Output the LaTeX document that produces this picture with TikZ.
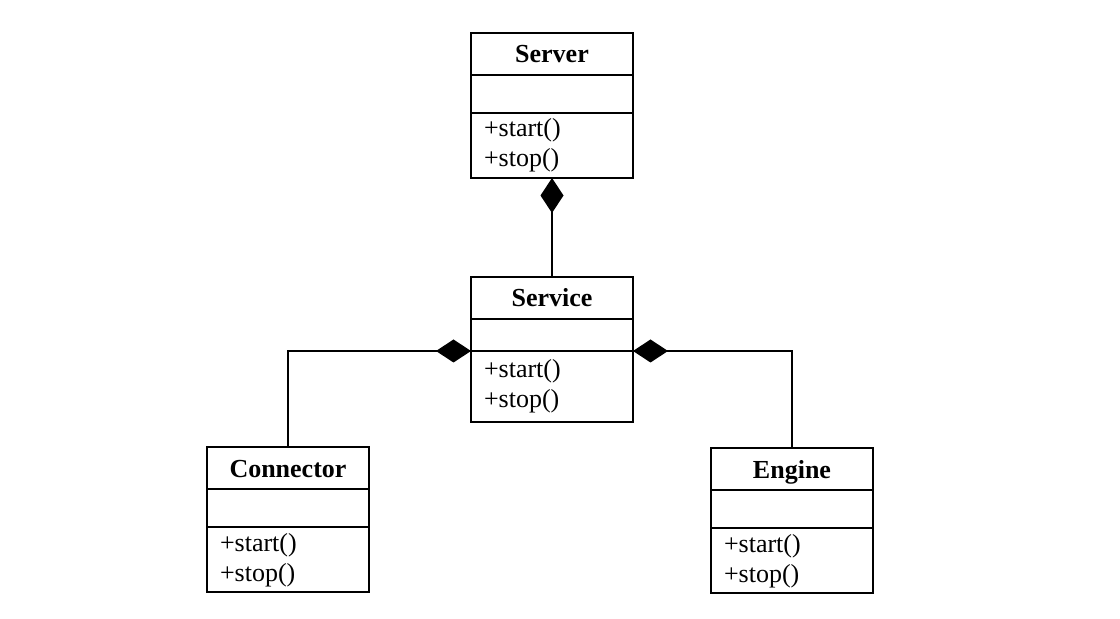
\documentclass[tikz,border=0pt]{standalone}
\usepackage{fontspec}
\setmainfont{Liberation Serif}
\usepackage{tikz}
\usetikzlibrary{positioning,arrows.meta}
\tikzset{classname/.style={draw,line width=1pt,outer sep=0pt,inner sep=0pt,minimum width=81pt,minimum height=21pt,text height=10.4pt,text depth=1.6pt,font=\fontsize{13}{15}\selectfont\bfseries} }
\tikzset{classattr/.style={draw,line width=1pt,outer sep=0pt,inner sep=0pt,minimum width=81pt,minimum height=19pt} }
\tikzset{classops/.style={draw,line width=1pt,outer sep=0pt,inner xsep=6.5pt,inner ysep=0pt,text width=68pt,minimum height=32.5pt,align=left,font=\fontsize{13}{15}\selectfont} }
\tikzset{compose/.style={line width=0.6pt,{Diamond[length=17.5pt,width=11.5pt]}-} }

\begin{document}
\begin{tikzpicture}[x=0.5pt,y=-0.5pt]
    \useasboundingbox (0,0) rectangle (1120,619);
    \node[classname] (server) at (552,54) {Server};
    \node[classattr,below=0pt of server] (serverattr) {};
    \node[classops,below=0pt of serverattr] (serverops) {+start()\\+stop()};
    \node[classname,below=49.5pt of serverops] (service) {Service};
    \node[classattr,below=0pt of service,minimum height=16pt] (serviceattr) {};
    \node[classops,below=0pt of serviceattr,minimum height=35.5pt] (serviceops) {+start()\\+stop()};
    \node[classname] (connector) at (288,468.5) {Connector};
    \node[classattr,below=0pt of connector] (connectorattr) {};
    \node[classops,below=0pt of connectorattr] (connectorops) {+start()\\+stop()};
    \node[classname] (engine) at (792,469.5) {Engine};
    \node[classattr,below=0pt of engine] (engineattr) {};
    \node[classops,below=0pt of engineattr] (engineops) {+start()\\+stop()};
    \draw[compose] (serverops.south) -- (service.north);
    \draw[compose] (serviceops.north west) -| (connector.north);
    \draw[compose] (serviceops.north east) -| (engine.north);
\end{tikzpicture}
\end{document}
